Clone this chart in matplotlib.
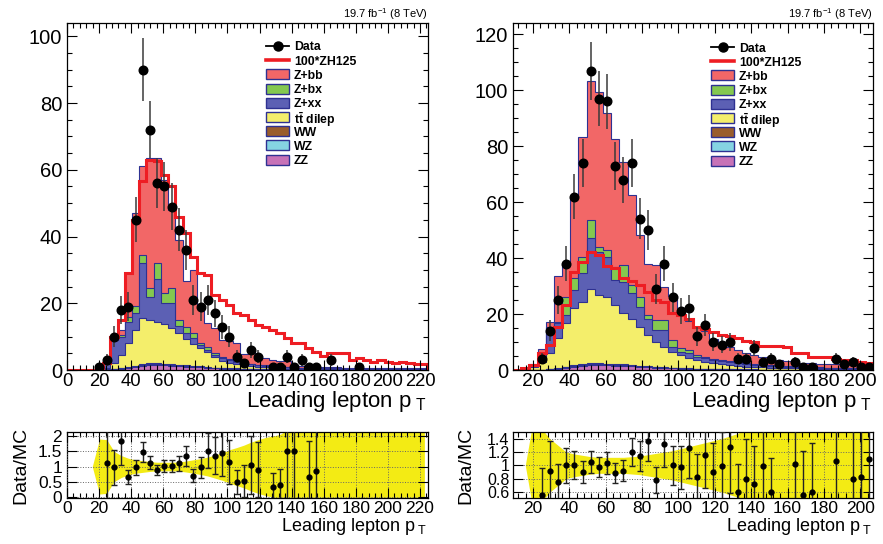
import numpy as np
import matplotlib
matplotlib.use("Agg")
import matplotlib.pyplot as plt
from matplotlib.lines import Line2D
from matplotlib.patches import Rectangle
from matplotlib.ticker import MultipleLocator, FuncFormatter

plt.rcParams['font.family'] = ['Liberation Sans', 'DejaVu Sans']
plt.rcParams['mathtext.fontset'] = 'custom'
plt.rcParams['mathtext.rm'] = 'Liberation Sans'
plt.rcParams['mathtext.bf'] = 'Liberation Sans:bold'
plt.rcParams['mathtext.it'] = 'Liberation Sans:italic'
plt.rcParams['mathtext.default'] = 'regular'

# ---------------- binning ----------------
edges_left = np.linspace(0, 225, 51)     # 50 bins of 4.5
edges_right = np.linspace(9, 207, 45)    # 44 bins of 4.5

# ---------------- left panel ----------------
data_left = [0, 0, 0, 0, 1, 3, 10, 18, 19, 45, 90, 72, 56, 55, 49, 42, 36, 21, 19, 21,
             17, 13, 10, 4, 2, 6, 4, 0, 1, 1, 4, 1, 3, 1, 1, 0, 3, 0, 0, 0,
             1, 0, 0, 0, 0, 0, 0, 0, 0, 0]
zz_left = [0, 0, 0, 0, 0, 0.1, 0.2, 0.4, 0.6, 0.9, 1.3, 1.5, 1.5, 1.4, 1.3, 1.2, 1.0, 0.9, 0.8, 0.6,
           0.5, 0.4, 0.35, 0.3, 0.25, 0.2, 0.2, 0.15, 0.1, 0.1, 0.1, 0.05, 0.05, 0.05, 0.05, 0.05, 0.05, 0.05, 0, 0,
           0, 0, 0, 0, 0, 0, 0, 0, 0, 0]
wz_left = [0, 0, 0, 0, 0, 0, 0.05, 0.05, 0.1, 0.1, 0.15, 0.15, 0.15, 0.15, 0.15, 0.1, 0.1, 0.1, 0.1, 0.1,
           0.05, 0.05, 0.05, 0.05, 0.05, 0.05, 0.05, 0.05, 0.05, 0.05, 0.05, 0, 0, 0, 0, 0, 0, 0, 0, 0,
           0, 0, 0, 0, 0, 0, 0, 0, 0, 0]
ww_left = [0, 0, 0, 0, 0, 0.05, 0.1, 0.15, 0.2, 0.25, 0.3, 0.3, 0.3, 0.3, 0.3, 0.3, 0.25, 0.2, 0.2, 0.2,
           0.15, 0.15, 0.1, 0.1, 0.1, 0.1, 0.05, 0.05, 0.05, 0.05, 0.05, 0.05, 0.05, 0.05, 0.05, 0, 0, 0, 0, 0,
           0, 0, 0, 0, 0, 0, 0, 0, 0, 0]
tt_left = [0, 0, 0, 0, 0.1, 0.35, 1.65, 3.9, 7.1, 10.75, 13.95, 13.05, 12.35, 11.85, 10.75, 9.4, 7.95, 6.6, 5.4, 4.4,
           3.3, 2.2, 1.7, 1.35, 1.1, 0.85, 0.7, 0.55, 0.4, 0.3, 0.2, 0.2, 0.2, 0.1, 0.1, 0.1, 0.1, 0.1, 0.1, 0.05,
           0.05, 0.05, 0.05, 0.05, 0.05, 0.05, 0.05, 0.05, 0.05, 0.05]
zxx_left = [0, 0, 0, 0, 0.2, 1.8, 7.0, 5.5, 6.5, 5.0, 16.3, 7.0, 12.9, 6.3, 7.5, 2.3, 1.7, 1.7, 1.0, 0.7,
            0.5, 0.7, 0.8, 0.7, 0.5, 0.6, 0.5, 0.5, 0.5, 0.4, 0.4, 0.4, 0.3, 0.3, 0.3, 0.3, 0.25, 0.25, 0.2, 0.2,
            0.15, 0.15, 0.15, 0.15, 0.15, 0.15, 0.15, 0.15, 0.15, 0.15]
zbx_left = [0, 0, 0, 0, 0, 0.1, 0.4, 0.5, 1.5, 2.2, 2.5, 2.5, 4.8, 3.0, 4.5, 1.7, 2.0, 1.5, 0.5, 0.8,
            0.5, 0.3, 0.2, 0.2, 0.2, 0.1, 0.1, 0.1, 0.1, 0.1, 0.1, 0.1, 0.1, 0.05, 0.05, 0.05, 0.05, 0.05, 0.05, 0.05,
            0.05, 0.05, 0.05, 0.05, 0.05, 0.05, 0.05, 0.05, 0.05, 0.05]
zbb_left = [0, 0, 0, 0, 0, 0.3, 0.9, 1.5, 13.0, 27.8, 26.5, 39.0, 31.5, 34.0, 23.5, 24.0, 13.7, 19.0, 11.6, 7.2,
            7.5, 5.2, 5.5, 5.3, 2.6, 3.8, 2.8, 2.1, 1.8, 1.6, 1.7, 0.7, 0.6, 0.95, 0.65, 0.5, 0.4, 0.35, 0.35, 0.3,
            0.25, 0.25, 0.25, 0.25, 0.25, 0.25, 0.25, 0.25, 0.25, 0.25]
zh_left = [0, 0, 0, 0, 0.5, 2, 10, 15, 29, 45, 56.5, 63, 62.5, 58.5, 55, 46, 41, 34, 29, 28.5,
           22.5, 21, 19.5, 17.2, 16.5, 15, 13.5, 13, 12, 11, 9.5, 8, 8, 6.5, 5.5, 4.2, 5, 5.2, 5, 3,
           3.5, 3, 2.5, 3, 2.5, 2.2, 2.5, 2, 1.8, 1.8]
nan = np.nan
ratio_left = [nan, nan, nan, nan, nan, 1.1, 0.97, 1.85, 0.65, 0.97, 1.48, 1.13, 0.88, 1.02, 1.02, 1.1, 1.35, 0.7, 0.97, 1.52,
              1.36, 1.45, 1.15, 0.5, 0.52, 1.05, 0.9, nan, 0.33, 0.38, 1.52, 1.5, nan, 0.65, 0.85, nan, nan, nan, nan, nan,
              nan, nan, nan, nan, nan, nan, nan, nan, nan, nan]
band_left = [nan, nan, nan, 0.0, 0.9, 0.88, 0.5, 0.36, 0.27, 0.22, 0.19, 0.16, 0.14, 0.14, 0.14, 0.15, 0.18, 0.22, 0.26, 0.31,
             0.38, 0.45, 0.55, 0.62, 0.7, 0.8, 0.88, 0.95, 1.0, 1.05, 1.2, 1.5, 1.5, 1.5, 1.5, 1.5, 1.5, 1.5, 1.5, 1.5,
             1.5, 1.5, 1.5, 1.5, 1.5, 1.5, 1.5, 1.5, 1.5, 1.5]

# ---------------- right panel ----------------
data_right = [0, 0, 0, 4, 14, 25, 38, 62, 74, 107, 97, 96, 73, 68, 74, 54, 50, 29, 38, 26,
              21, 22, 12, 16, 10, 9, 10, 4, 4, 8, 3, 4, 2, 0, 3, 1, 1, 0, 0, 4,
              2, 3, 1, 1]
zz_right = [0, 0, 0, 0.1, 0.2, 0.4, 0.8, 1.2, 1.6, 1.8, 1.8, 1.7, 1.6, 1.5, 1.3, 1.1, 1.0, 0.8, 0.7, 0.6,
            0.5, 0.4, 0.35, 0.3, 0.25, 0.2, 0.2, 0.15, 0.1, 0.1, 0.1, 0.1, 0.05, 0.05, 0.05, 0.05, 0.05, 0.05, 0, 0,
            0, 0, 0, 0]
wz_right = [0, 0, 0, 0, 0.05, 0.1, 0.1, 0.15, 0.2, 0.2, 0.2, 0.2, 0.2, 0.2, 0.2, 0.15, 0.15, 0.1, 0.1, 0.1,
            0.1, 0.05, 0.05, 0.05, 0.05, 0.05, 0.05, 0.05, 0.05, 0.05, 0, 0, 0, 0, 0, 0, 0, 0, 0, 0,
            0, 0, 0, 0]
ww_right = [0, 0, 0, 0.05, 0.1, 0.2, 0.3, 0.35, 0.4, 0.4, 0.4, 0.4, 0.4, 0.35, 0.3, 0.3, 0.25, 0.2, 0.2, 0.15,
            0.15, 0.1, 0.1, 0.1, 0.1, 0.05, 0.05, 0.05, 0.05, 0.05, 0.05, 0.05, 0.05, 0.05, 0.05, 0, 0, 0, 0, 0,
            0, 0, 0, 0]
tt_right = [0, 0.2, 1.0, 2.85, 5.65, 10.6, 15.5, 20.3, 22.2, 26.4, 24.4, 23.9, 21.0, 18.15, 16.3, 13.95, 11.1, 9.0, 7.3, 5.65,
            4.55, 3.65, 3.1, 2.55, 2.1, 1.7, 1.4, 1.15, 1.0, 0.9, 0.75, 0.65, 0.6, 0.5, 0.45, 0.4, 0.35, 0.3, 0.3, 0.3,
            0.25, 0.25, 0.2, 0.2]
zxx_right = [0, 0.1, 0.3, 1.2, 9.0, 5.4, 2.9, 6.6, 10.1, 18.2, 15.4, 14.3, 8.9, 11.3, 9.3, 7.1, 5.9, 4.2, 6.0, 1.8,
             1.2, 1.8, 1.2, 1.2, 1.1, 1.2, 1.1, 1.0, 0.9, 0.8, 0.8, 0.7, 0.6, 0.6, 0.55, 0.5, 0.45, 0.45, 0.4, 0.4,
             0.4, 0.35, 0.35, 0.3]
zbx_right = [0, 0, 0, 0, 0.5, 0.5, 6.6, 4.4, 6.0, 6.6, 1.8, 2.3, 4.8, 6.0, 2.9, 3.6, 1.2, 3.5, 3.5, 2.4,
             1.2, 1.1, 0.6, 0.6, 0.4, 0.3, 0.3, 0.3, 0.3, 0.3, 0.2, 0.2, 0.2, 0.2, 0.2, 0.15, 0.15, 0.15, 0.15, 0.15,
             0.1, 0.1, 0.1, 0.1]
zbb_right = [0, 0, 0.7, 3.2, 1.7, 16.4, 11.8, 28.7, 42.6, 49.7, 55.4, 49.1, 45.6, 36.9, 32.2, 22.0, 18.2, 19.6, 11.9, 15.7,
             14.3, 10.5, 9.5, 9.2, 7.0, 5.9, 5.1, 4.3, 3.6, 3.3, 2.6, 2.3, 2.0, 1.8, 1.7, 1.5, 1.4, 1.25, 1.15, 1.35,
             1.25, 1.1, 0.95, 0.9]
zh_right = [0, 0.6, 1.8, 5.9, 8.9, 15.5, 23.2, 35.1, 38.7, 42.2, 41, 37.2, 36.3, 32.7, 31.9, 30.3, 28, 25, 24.2, 20.2,
            19.6, 18.1, 15.5, 14.5, 13.7, 12.5, 12, 11.5, 10.5, 10, 8.6, 8.4, 8.4, 8.2, 6.2, 6, 4.8, 4.6, 4.5, 3.8,
            3.6, 3.5, 2.8, 2.6]
ratio_right = [nan, nan, nan, 0.55, 0.92, 0.75, 1.0, 1.0, 0.9, 1.05, 0.97, 1.04, 0.89, 0.92, 1.2, 1.14, 1.36, 0.78, 1.32, 1.0,
               0.97, 1.26, 0.82, 1.15, 0.9, 0.99, 1.27, 0.6, 0.8, 0.72, 0.99, 0.6, nan, nan, 1.02, 0.55, 0.6, nan, nan, 1.07,
               nan, 0.8, 0.82, 1.09]
band_right = [nan, 0.0, 0.7, 0.55, 0.4, 0.3, 0.2, 0.17, 0.15, 0.13, 0.12, 0.12, 0.12, 0.12, 0.13, 0.14, 0.16, 0.18, 0.2, 0.22,
              0.25, 0.28, 0.31, 0.34, 0.37, 0.4, 0.44, 0.48, 0.55, 0.7, 0.7, 0.7, 0.7, 0.7, 0.7, 0.7, 0.7, 0.7, 0.7, 0.7,
              0.7, 0.7, 0.7, 0.7]

# stack order bottom -> top, legend order is the reverse
stack_names = ['ZZ', 'WZ', 'WW', r'$\mathbf{t\bar{t}}$ dilep', 'Z+xx', 'Z+bx', 'Z+bb']
stack_colors = ['#C772B7', '#85D4E2', '#9A5D2B', '#F4EE6B', '#5C60B4', '#84C84F', '#F26767']
EDGE = '#2E3192'
ZH_COLOR = '#EE1D23'
BAND_COLOR = '#F3EB14'

W, H = 883, 544


def px_axes(fig, x0, y0, x1, y1):
    """ axes from pixel box (top-left origin) """
    ax = fig.add_axes([x0 / W, 1 - y1 / H, (x1 - x0) / W, (y1 - y0) / H])
    ax._pxbox = (x0, y0, x1, y1)
    return ax


def to_axes(ax, px, py):
    """ pixel position in the figure -> axes fraction """
    x0, y0, x1, y1 = ax._pxbox
    return (px - x0) / (x1 - x0), (y1 - py) / (y1 - y0)


def fmt_g(v, pos):
    return '%g' % round(v, 3)


def style_axis(ax, xmaj, xmin, ymaj, ymin, xsize, ysize, xpad=3.5):
    ax.xaxis.set_major_locator(MultipleLocator(xmaj))
    ax.xaxis.set_minor_locator(MultipleLocator(xmin))
    ax.yaxis.set_major_locator(MultipleLocator(ymaj))
    if ymin:
        ax.yaxis.set_minor_locator(MultipleLocator(ymin))
    ax.xaxis.set_major_formatter(FuncFormatter(fmt_g))
    ax.yaxis.set_major_formatter(FuncFormatter(fmt_g))
    ax.tick_params(which='both', direction='in', top=True, right=True, width=0.8)
    ax.tick_params(axis='x', labelsize=xsize, pad=xpad)
    ax.tick_params(axis='y', labelsize=ysize)
    ax.tick_params(which='major', length=7)
    ax.tick_params(which='minor', length=3.5)
    for s in ax.spines.values():
        s.set_linewidth(0.9)


def draw_legend(ax, left_px, top_px):
    """ ROOT-like legend placed by pixels: 9 rows, 14.2 px apart """
    rows = [('Data', 'data'), ('100*ZH125', 'zh')]
    for i in reversed(range(len(stack_names))):
        rows.append((stack_names[i], i))
    for r, (label, kind) in enumerate(rows):
        py = top_px + 14.2 * r
        xa, ya = to_axes(ax, left_px, py)
        xb, _ = to_axes(ax, left_px + 23, py)
        _, yh = to_axes(ax, left_px, py - 5)
        if kind == 'data':
            ax.add_line(Line2D([xa, xb], [ya, ya], color='black', lw=1.3, transform=ax.transAxes, clip_on=False))
            ax.plot([(xa + xb) / 2], [ya], 'o', color='black', ms=6.5, transform=ax.transAxes, clip_on=False)
        elif kind == 'zh':
            ax.add_line(Line2D([xa, xb], [ya, ya], color=ZH_COLOR, lw=2.6, transform=ax.transAxes, clip_on=False))
        else:
            ax.add_patch(Rectangle((xa, ya - (yh - ya)), xb - xa, 2 * (yh - ya), transform=ax.transAxes,
                                   facecolor=stack_colors[kind], edgecolor=EDGE, lw=1.0, clip_on=False))
        xt, _ = to_axes(ax, left_px + 28, py)
        ax.text(xt, ya, label, transform=ax.transAxes, ha='left', va='center_baseline',
                fontsize=8.8, fontweight='bold')


def draw_main(ax, edges, comps, zh, data, ymax):
    centers = 0.5 * (edges[1:] + edges[:-1])
    cum = np.cumsum(np.array(comps), axis=0)
    # ROOT-like stack: draw the cumulative sums from the top down
    for i in reversed(range(len(comps))):
        ax.stairs(cum[i], edges, baseline=0, fill=True, facecolor=stack_colors[i],
                  edgecolor=EDGE, linewidth=0.8)
    ax.stairs(np.array(zh), edges, color=ZH_COLOR, linewidth=2.2)
    data = np.array(data, dtype=float)
    m = data > 0
    ax.errorbar(centers[m], data[m], yerr=np.sqrt(data[m]), fmt='o', color='black',
                ms=6.2, ecolor='#3a3a3a', elinewidth=1.1, capsize=0, zorder=5)
    ax.set_xlim(edges[0], edges[-1])
    ax.set_ylim(0, ymax)


def draw_ratio(ax, edges, ratio, data, band, ylim):
    centers = 0.5 * (edges[1:] + edges[:-1])
    band = np.array(band, dtype=float)
    ok = ~np.isnan(band)
    ax.fill_between(centers[ok], 1 - band[ok], 1 + band[ok], color=BAND_COLOR, lw=0, zorder=1)
    ratio = np.array(ratio, dtype=float)
    data = np.array(data, dtype=float)
    m = ~np.isnan(ratio)
    # data stat error combined with MC stat error
    err = ratio[m] * np.sqrt(1.0 / data[m] + np.nan_to_num(band[m]) ** 2)
    ax.errorbar(centers[m], ratio[m], yerr=err, fmt='o', color='black', ms=3.5,
                ecolor='#222222', elinewidth=1.0, capsize=2, capthick=1.0, zorder=4)
    ax.set_xlim(edges[0], edges[-1])
    ax.set_ylim(*ylim)
    ax.grid(True, which='major', linestyle=':', color='#666666', linewidth=0.7, zorder=2)
    ax.set_axisbelow(False)


fig = plt.figure(figsize=(W / 100, H / 100), dpi=100)

# left column
axl = px_axes(fig, 67, 23, 428, 370)
draw_main(axl, edges_left, [zz_left, wz_left, ww_left, tt_left, zxx_left, zbx_left, zbb_left],
          zh_left, data_left, 104)
style_axis(axl, 20, 4, 20, 5, 13.3, 14.5, xpad=2.5)
draw_legend(axl, 266, 46)

rl = px_axes(fig, 67, 432, 428, 498)
draw_ratio(rl, edges_left, ratio_left, data_left, band_left, (-0.03, 2.13))
style_axis(rl, 20, 4, 0.5, 0, 12.5, 12.5, xpad=2.5)

# right column
axr = px_axes(fig, 513, 23, 873, 370)
draw_main(axr, edges_right, [zz_right, wz_right, ww_right, tt_right, zxx_right, zbx_right, zbb_right],
          zh_right, data_right, 124)
style_axis(axr, 20, 4, 20, 5, 14, 14.5, xpad=2.5)
draw_legend(axr, 711, 47)

rr = px_axes(fig, 513, 432, 873, 498)
draw_ratio(rr, edges_right, ratio_right, data_right, band_right, (0.51, 1.5))
style_axis(rr, 20, 4, 0.2, 0, 12.5, 11.5, xpad=2.5)
rr.tick_params(axis='y', pad=2.5)

# titles / labels
for xr in (428, 873):
    fig.text(xr / W, 1 - 14 / H, '19.7 fb$^{-1}$ (8 TeV)', ha='right', va='center', fontsize=8)
    fig.text((xr - 2) / W, 1 - 407 / H, r'Leading lepton p$_{\ T}$', ha='right', va='baseline', fontsize=16)
    fig.text((xr - 1) / W, 1 - 531 / H, r'Leading lepton p$_{\ T}$', ha='right', va='baseline', fontsize=13)
for xl in (21, 466):
    fig.text(xl / W, 1 - 465 / H, 'Data/MC', rotation=90, ha='center', va='center', fontsize=14)

fig.savefig('out.png', dpi=100)
